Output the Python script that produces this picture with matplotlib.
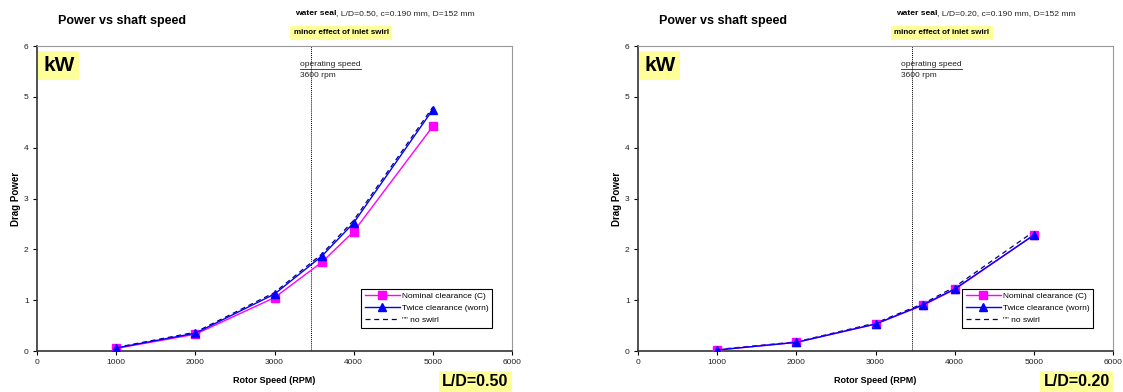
import matplotlib; matplotlib.use("Agg"); import matplotlib.pyplot as plt
import numpy as np

plt.rcParams["font.family"] = ["Liberation Sans", "DejaVu Sans"]

rpm = [1000, 2000, 3000, 3600, 4000, 5000]

# L/D = 0.50
nominal_50 = [0.05, 0.33, 1.05, 1.75, 2.35, 4.42]
twice_50   = [0.06, 0.35, 1.12, 1.87, 2.52, 4.75]
noswirl_50 = [0.07, 0.37, 1.15, 1.91, 2.57, 4.80]

# L/D = 0.20
nominal_20 = [0.02, 0.17, 0.53, 0.90, 1.21, 2.28]
twice_20   = [0.02, 0.17, 0.53, 0.91, 1.22, 2.28]
noswirl_20 = [0.03, 0.18, 0.55, 0.93, 1.26, 2.35]

op_line = 3460
panels = [
    ("0.50", nominal_50, twice_50, noswirl_50),
    ("0.20", nominal_20, twice_20, noswirl_20),
]
lefts = [37 / 1123, 638 / 1123]

fig = plt.figure(figsize=(11.23, 3.92), dpi=100)
yellow = "#FFFF99"

for (ld, nom, twi, nos), left in zip(panels, lefts):
    ax = fig.add_axes([left, 41 / 392, 475 / 1123, 305 / 392])
    ax.plot(rpm, nom, color="#FF00FF", lw=1, marker="s", ms=6, label="Nominal clearance (C)", zorder=3)
    ax.plot(rpm, twi, color="#0000FF", lw=1, marker="^", ms=6, label="Twice clearance (worn)", zorder=4)
    ax.plot(rpm, nos, color="#000080", lw=0.9, ls=(0, (4, 3)), label='"" no swirl', zorder=2)
    ax.axvline(op_line, color="#000000", lw=0.7, ls=(0, (1, 1)))

    ax.set_xlim(0, 6000)
    ax.set_ylim(0, 6)
    ax.set_xticks(range(0, 6001, 1000))
    ax.set_yticks(range(0, 7))
    ax.tick_params(labelsize=6, length=3, width=0.8, direction="out", pad=3, labelcolor="#222222")
    for s in ("top", "right"):
        ax.spines[s].set_color("#999999")
        ax.spines[s].set_linewidth(0.8)
    for s in ("left", "bottom"):
        ax.spines[s].set_color("#333333")
        ax.spines[s].set_linewidth(1.2)

    ax.set_xlabel("Rotor Speed (RPM)", fontsize=6.5, fontweight="bold", labelpad=7)
    ax.set_ylabel("Drag Power", fontsize=7, fontweight="bold", labelpad=2)

    ax.legend(loc="lower right", bbox_to_anchor=(0.967, 0.063), fontsize=6, frameon=True,
              fancybox=False, edgecolor="black", framealpha=1, handlelength=4.2,
              borderpad=0.4, labelspacing=0.5, handletextpad=0.3)
    ax.get_legend().get_frame().set_linewidth(0.8)

    ax.text(0.013, 0.937, "kW", transform=ax.transAxes, fontsize=15, fontweight="bold",
            va="center", ha="left", bbox=dict(facecolor=yellow, edgecolor="none", pad=3.5))
    ax.text(0.993, -0.101, f"L/D={ld}", transform=ax.transAxes, fontsize=11.5, fontweight="bold",
            va="center", ha="right", bbox=dict(facecolor=yellow, edgecolor="none", pad=2.5))

    t = ax.text(0.554, 0.934, "operating speed", transform=ax.transAxes, fontsize=6,
                va="baseline", ha="left", color="#222222")
    ax.text(0.554, 0.897, "3600 rpm", transform=ax.transAxes, fontsize=6,
            va="baseline", ha="left", color="#222222")
    t.set_gid("underline")

    ax.text(0.045, 1.082, "Power vs shaft speed", transform=ax.transAxes, fontsize=9,
            fontweight="bold", va="center", ha="left")
    ws = ax.text(0.543, 1.094, "water seal", transform=ax.transAxes, fontsize=6.1,
                 fontweight="bold", va="bottom", ha="left")
    ax.annotate(f", L/D={ld}, c=0.190 mm, D=152 mm", xy=(1, 0), xycoords=ws,
                fontsize=6.1, va="bottom", ha="left", color="#222222")
    ax.text(0.54, 1.044, "minor effect of inlet swirl", transform=ax.transAxes, fontsize=5.8,
            fontweight="bold", va="center", ha="left",
            bbox=dict(facecolor=yellow, edgecolor="none", pad=2.5))

# underline "operating speed"
fig.canvas.draw()
r = fig.canvas.get_renderer()
for ax in fig.axes:
    for t in ax.texts:
        if t.get_gid() == "underline":
            bb = t.get_window_extent(r).transformed(ax.transAxes.inverted())
            ax.plot([bb.x0, bb.x1], [bb.y0 - 0.004, bb.y0 - 0.004], transform=ax.transAxes,
                    color="#222222", lw=0.6, clip_on=False)

fig.savefig("out.png", dpi=100)
